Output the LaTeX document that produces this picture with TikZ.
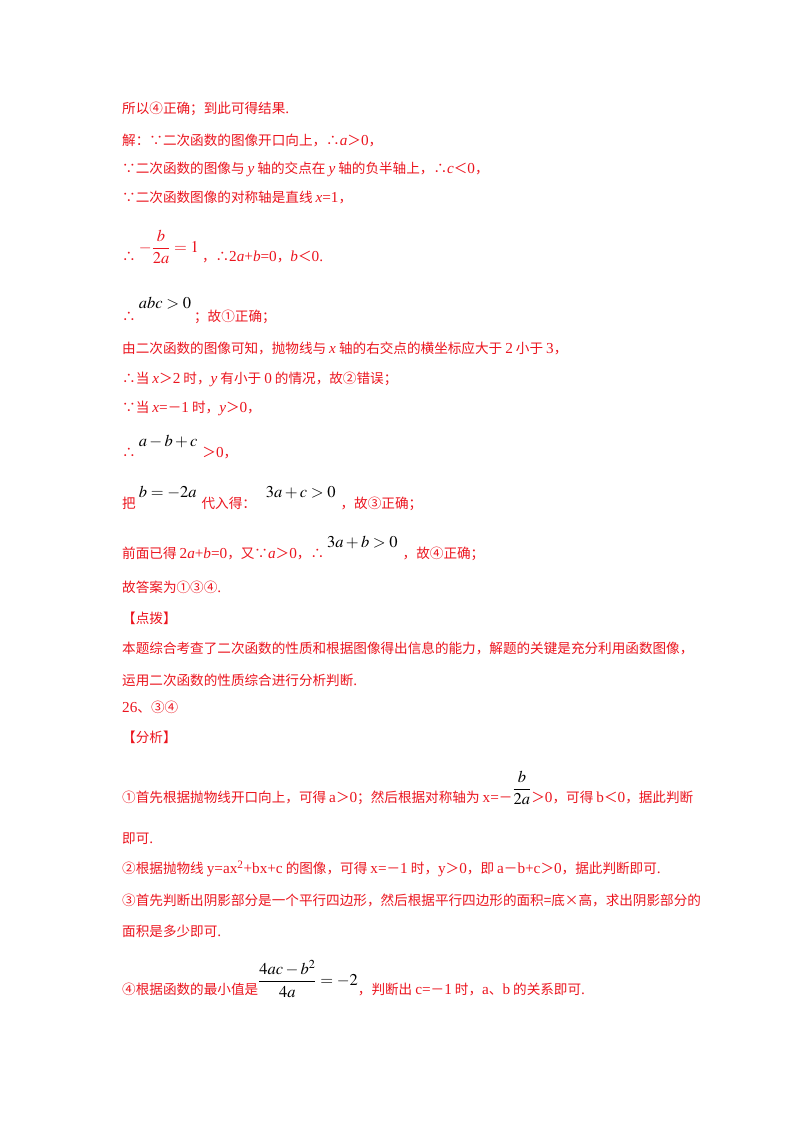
\documentclass[tikz,border=0pt]{standalone}
\usepackage{amsmath}
\usepackage{mathptmx}
\usepackage{fontspec}
\setmainfont{Noto Sans CJK SC}
\newfontfamily\latin[Scale=1.12]{Liberation Serif}
\newcommand\lt[1]{{\latin #1}}
\newcommand\li[1]{{\latin\itshape #1}}
\newcommand\mf{\fontsize{16.5}{18}\selectfont}
\newcommand\up[2]{\raisebox{#1pt}{\mf\color{black}$#2$}}
\definecolor{ansred}{RGB}{235,20,30}
\tikzset{txt/.style={anchor=west,inner sep=0pt,text=ansred,font=\fontsize{13.6}{16}\selectfont}}
\begin{document}
\begin{tikzpicture}[x=1pt,y=-1pt]
\useasboundingbox (0,0) rectangle (800,1132);
\node[txt] (l1) at (122,109) {所以④正确；到此可得结果\lt{.}};
\node[txt] (l2) at (122,140) {解：∵二次函数的图像开口向上，∴\li{a}＞\lt{0}，};
\node[txt] (l3) at (122,169) {∵二次函数的图像与 \li{y} 轴的交点在 \li{y} 轴的负半轴上，∴\li{c}＜\lt{0}，};
\node[txt] (l4) at (122,197) {∵二次函数图像的对称轴是直线 \li{x}\lt{=1}，};
\node[txt] (l5) at (122,247) {∴ \raisebox{9pt}{\mf$-\dfrac{b}{2a}=1$} ，∴\lt{2}\li{a}\lt{+}\li{b}\lt{=0}，\li{b}＜\lt{0.}};
\node[txt] (l6) at (122,310) {∴ \up{13}{abc>0} ；故①正确；};
\node[txt] (l7) at (122,348) {由二次函数的图像可知，抛物线与 \li{x} 轴的右交点的横坐标应大于 \lt{2} 小于 \lt{3}，};
\node[txt] (l8) at (122,379) {∴当 \li{x}＞\lt{2} 时，\li{y} 有小于 \lt{0} 的情况，故②错误；};
\node[txt] (l9) at (122,408) {∵当 \li{x}\lt{=}－\lt{1} 时，\li{y}＞\lt{0}，};
\node[txt] (l10) at (122,447) {∴ \up{11}{a-b+c}\hspace{5pt}＞\lt{0}，};
\node[txt] (l11) at (122,498) {把 \up{11}{b=-2a}\hspace{5pt}代入得：\hspace{10pt}\up{11}{3a+c>0}\hspace{5pt}，故③正确；};
\node[txt] (l12) at (122,548) {前面已得 \lt{2}\li{a}\lt{+}\li{b}\lt{=0}，又∵\li{a}＞\lt{0}，∴ \up{11}{3a+b>0}\hspace{5pt}，故④正确；};
\node[txt] (l13) at (122,587) {故答案为①③④\lt{.}};
\node[txt] (l14) at (122,618) {【点拨】};
\node[txt] (l15) at (122,648) {本题综合考查了二次函数的性质和根据图像得出信息的能力，解题的关键是充分利用函数图像，};
\node[txt] (l16) at (122,680) {运用二次函数的性质综合进行分析判断\lt{.}};
\node[txt] (l17) at (122,707) {\lt{26}、③④};
\node[txt] (l18) at (122,737) {【分析】};
\node[txt] (l19) at (122,788) {①首先根据抛物线开口向上，可得 \lt{a}＞\lt{0}；然后根据对称轴为 \lt{x=}－\raisebox{9pt}{\mf\color{black}$\dfrac{b}{2a}$}＞\lt{0}，可得 \lt{b}＜\lt{0}，据此判断};
\node[txt] (l20) at (122,839) {即可\lt{.}};
\node[txt] (l21) at (122,869) {②根据抛物线 \lt{y=ax\textsuperscript{2}+bx+c} 的图像，可得 \lt{x=}－\lt{1} 时，\lt{y}＞\lt{0}，即 \lt{a}－\lt{b+c}＞\lt{0}，据此判断即可\lt{.}};
\node[txt] (l22) at (122,900) {③首先判断出阴影部分是一个平行四边形，然后根据平行四边形的面积=底×高，求出阴影部分的};
\node[txt] (l23) at (122,931) {面积是多少即可\lt{.}};
\node[txt] (l24) at (122,979) {④根据函数的最小值是\raisebox{9pt}{\mf\color{black}$\dfrac{4ac-b^2}{4a}=-2$}，判断出 \lt{c=}－\lt{1} 时，\lt{a}、\lt{b} 的关系即可\lt{.}};
\end{tikzpicture}
\end{document}
